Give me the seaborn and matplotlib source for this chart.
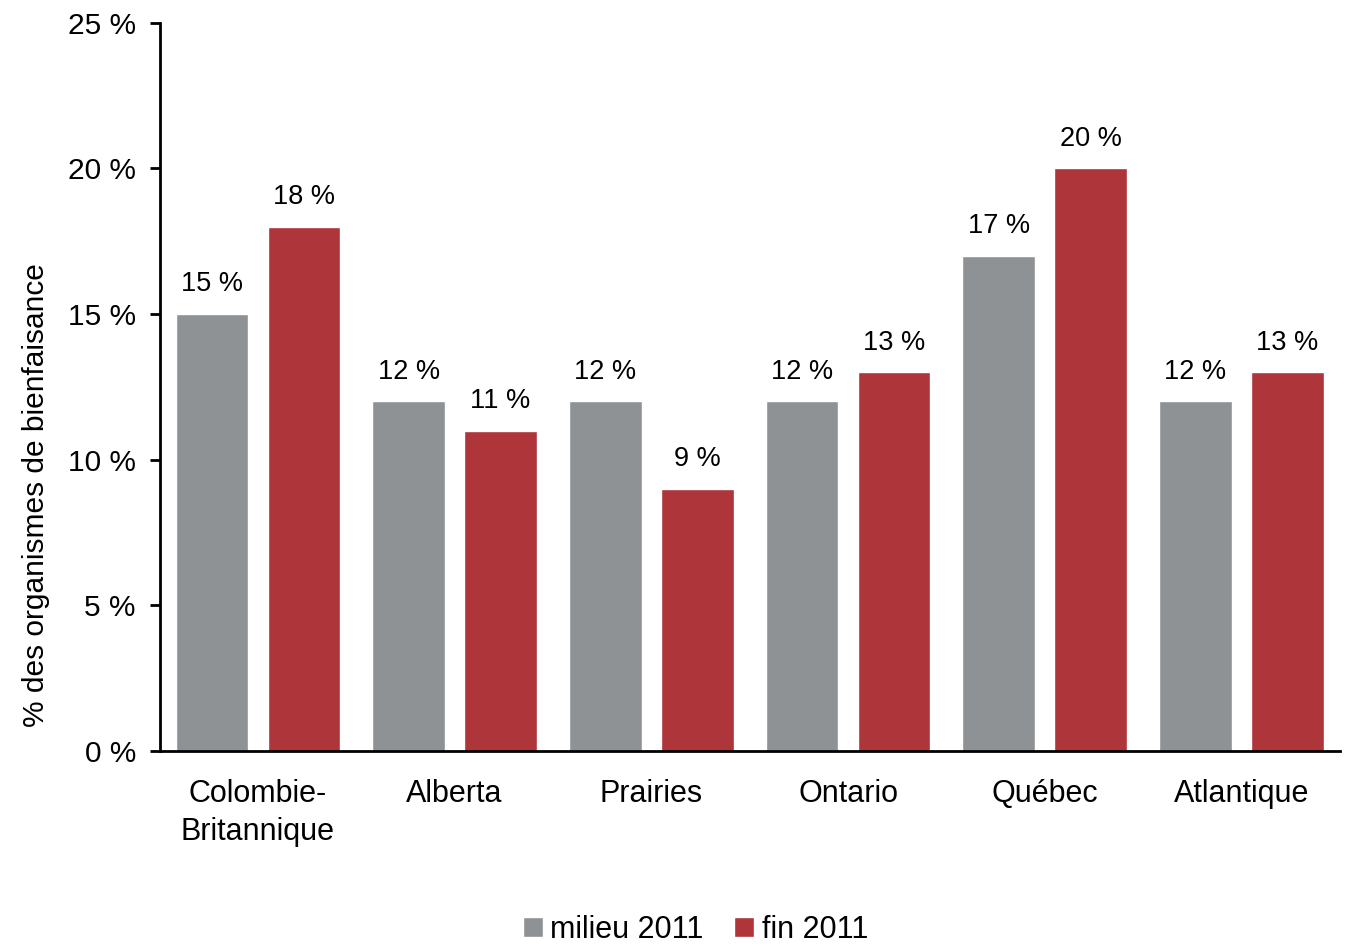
import pandas as pd
import numpy as np
import matplotlib.pyplot as plt
import seaborn as sns

regions = ["Colombie-\nBritannique", "Alberta", "Prairies", "Ontario", "Québec", "Atlantique"]
milieu_2011 = [15, 12, 12, 12, 17, 12]
fin_2011 = [18, 11, 9, 13, 20, 13]
series_names = ["milieu 2011", "fin 2011"]
colors = ["#8F9295", "#AE353A"]

df = pd.DataFrame({
    "region": regions * 2,
    "serie": [series_names[0]] * len(regions) + [series_names[1]] * len(regions),
    "valeur": milieu_2011 + fin_2011,
})

sns.set_style("white")
plt.rcParams['font.family'] = ['Liberation Sans', 'DejaVu Sans']
plt.rcParams['text.color'] = 'black'
plt.rcParams['axes.labelcolor'] = 'black'
plt.rcParams['xtick.color'] = 'black'
plt.rcParams['ytick.color'] = 'black'

fig = plt.figure(figsize=(13.52, 9.47), dpi=100)
ax = fig.add_axes([0.118, 0.207, 0.873, 0.769])

sns.barplot(data=df, x="region", y="valeur", hue="serie", palette=colors,
            width=0.935, gap=0.21, saturation=1, ax=ax, legend=True)

# etiquettes au-dessus des barres
for cont in ax.containers:
    ax.bar_label(cont, labels=[f"{int(v)} %" for v in cont.datavalues],
                 padding=12, fontsize=19.5, color="black")

ax.set_ylim(0, 25)
ax.set_xlim(-0.5, 5.5)
ax.set_yticks([0, 5, 10, 15, 20, 25])
ax.set_yticklabels([f"{t} %" for t in [0, 5, 10, 15, 20, 25]])
ax.set_xlabel("")
ax.set_ylabel("% des organismes de bienfaisance", fontsize=21.5)
ax.yaxis.set_label_coords(-0.093, 0.352)
ax.tick_params(axis="y", labelsize=21.5, direction="out", length=7, width=2, left=True, pad=10)
ax.tick_params(axis="x", labelsize=22, length=0, pad=20)
for lab in ax.get_xticklabels():
    lab.set_linespacing(1.35)

sns.despine(ax=ax)
for s in ["left", "bottom"]:
    ax.spines[s].set_linewidth(2)
    ax.spines[s].set_color("black")

ax.legend(loc="upper center", bbox_to_anchor=(0.454, -0.187), ncol=2, frameon=False,
          fontsize=22, handlelength=0.65, handleheight=0.65, handletextpad=0.25,
          columnspacing=1.0)

fig.savefig("out.png", dpi=100)
